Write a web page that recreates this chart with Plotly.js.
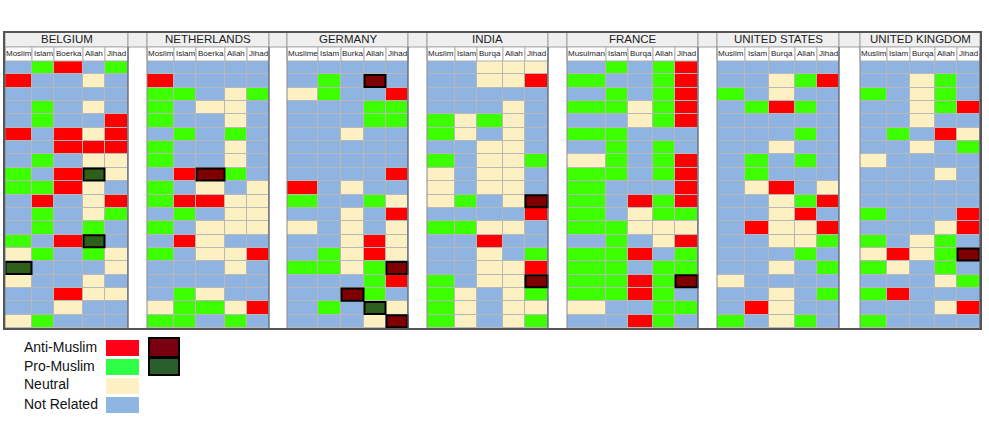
<!DOCTYPE html>
<html>
<head>
<meta charset="utf-8">
<script src="https://cdn.plot.ly/plotly-3.0.1.min.js"></script>
<style>html,body{margin:0;padding:0;background:#fff;}#chart{width:989px;height:421px;}</style>
</head>
<body>
<div id="chart"></div>
<script>
// ---------------- DATA ----------------
// Codes: B = Not Related, N = Neutral, G = Pro-Muslim, R = Anti-Muslim,
//        r = Anti-Muslim (highlighted), g = Pro-Muslim (highlighted)
const countries = ["BELGIUM", "NETHERLANDS", "GERMANY", "INDIA", "FRANCE", "UNITED STATES", "UNITED KINGDOM"];

const termsBelgium     = ["Moslim", "Islam", "Boerka", "Allah", "Jihad"];
const termsNetherlands = ["Moslim", "Islam", "Boerka", "Allah", "Jihad"];
const termsGermany     = ["Muslime", "Islam", "Burka", "Allah", "Jihad"];
const termsIndia       = ["Muslim", "Islam", "Burqa", "Allah", "Jihad"];
const termsFrance      = ["Musulman", "Islam", "Burqa", "Allah", "Jihad"];
const termsUS          = ["Muslim", "Islam", "Burqa", "Allah", "Jihad"];
const termsUK          = ["Muslim", "Islam", "Burqa", "Allah", "Jihad"];

const belgium = ["BGRBG","RBBNB","BBBBB","BGBNB","BGBBR","RBRNR","BBRRR","BGBNN","GBRgN","GGRNB",
                 "BRBNR","BGBNG","BGBGB","GBRgB","NGBGN","gBBBN","NBBNB","BBRNN","BBNBB","NGBBB"];
const netherlands = ["BBBBB","RBBBB","GGBNG","GBNNB","GBBNB","BGBGB","GBBNB","GBBNB","BRrGB","GBNBN",
                     "GRRNN","BGBNN","GBNNN","BRNBB","GBNNR","BBBNB","BBBBB","BGNBB","NGGNR","GGBGB"];
const germany = ["BBBBB","BGBrB","NGBBR","BBBGG","BBBGG","BBNBB","BBBBB","BBBBB","BBBBR","RBNBB",
                 "GBBGN","BBNBR","NBNBN","BBNRN","BGNRN","GGNGr","BBBGR","BBrGB","BGBgN","BBBNr"];
const india = ["BBNNN","BBNNR","BBBBB","BBBNB","GNGNB","GNBNB","BBNNB","GBNNG","NBNNB","NBNNB",
               "NGBNr","BBBBR","GGNNB","BBRBB","BBNBG","BBNNR","GBNNr","GNBNG","GNBNN","GNBNG"];
const france = ["BGBGR","GBBGR","BGBGR","GGNGR","BBNGR","GGBBB","BGBGB","NGBGR","GGBGR","GBBBR",
                "GBRGR","GBNGG","GGNNN","BGBNR","GGRBG","GGBGG","GGRGr","GGRGB","NBBGG","BBRGB"];
const unitedStates = ["BBBBB","BBNGR","GBNBB","BGRGB","BBBBB","BBBGB","BBNBB","BGBGB","BGBBB","BNRBN",
                      "BBNGR","BBNRB","BRNNR","BBNNG","BBBGB","BBNBG","NBBBB","BBNBG","BRNBB","GBNGB"];
const unitedKingdom = ["BBBBB","BBNGB","GBNGB","BBNGR","BBNBB","BGBRN","BBNBG","NBBBB","BBBNB","BBBBB",
                       "BBBBB","GBBBR","BBBNR","GBNGB","NRNGr","GNBGB","BBBNG","GRBBB","BBBNR","GBBBB"];

const legendLabels = ["Anti-Muslim", "Pro-Muslim", "Neutral", "Not Related"];

// ---------------- STYLE / LAYOUT ----------------
const panelData  = [belgium, netherlands, germany, india, france, unitedStates, unitedKingdom];
const panelTerms = [termsBelgium, termsNetherlands, termsGermany, termsIndia, termsFrance, termsUS, termsUK];
const colWidths = [[27,22,29,22,23],[27,22,29,22,22],[31,23,23,22,22],[28,22,26,22,23],
                   [39,22,25,22,23],[28,24,26,22,22],[27,23,25,22,23]];
const gapWidths = [19,18,19,19,19,21];
const X_START = 5;

const C = {B:'#8fb4e2', N:'#fdf0c3', G:'#3cff00', R:'#ff0000', r:'#7f0000', g:'#2e601c'};
const codeVal = {B:0, N:1, G:2, R:3, r:4, g:5};
const colorscale = [[0,C.B],[0.2,C.N],[0.4,C.G],[0.6,C.R],[0.8,C.r],[1,C.g]];

const W = 989, H = 421;
const TOP_CELLS = 61, BOTTOM_CELLS = 328, HEADER_TOP = 32, LABEL_TOP = 47;
const plotH = BOTTOM_CELLS - TOP_CELLS;
const py = p => (BOTTOM_CELLS - p) / plotH;   // pixel row -> paper y

const traces = [], shapes = [], annotations = [];
let x = X_START;
const panels = [];
panelData.forEach((rows, c) => {
  const edges = [x];
  colWidths[c].forEach(w => edges.push(edges[edges.length - 1] + w));
  panels.push(edges);
  x = edges[edges.length - 1] + (c < gapWidths.length ? gapWidths[c] : 0);
});

panels.forEach((edges, c) => {
  const rows = panelData[c];
  const nRows = rows.length;
  const z = rows.map(r => r.split('').map(ch => codeVal[ch]));
  const x0 = edges[0], x1 = edges[edges.length - 1];
  // grid background
  shapes.push({type:'rect', layer:'below', xref:'x', yref:'y', x0:x0, x1:x1, y0:-0.5, y1:nRows - 0.5,
               fillcolor:'#b8b8b8', line:{width:0}});
  traces.push({
    type:'heatmap', x:edges, y:rows.map((_, i) => i), z:z,
    zmin:0, zmax:5, colorscale:colorscale, showscale:false,
    xgap:1, ygap:1, hoverinfo:'skip'
  });
  // highlighted cells
  rows.forEach((r, i) => r.split('').forEach((ch, j) => {
    if (ch === 'r' || ch === 'g') {
      shapes.push({type:'rect', xref:'x', yref:'y', x0:edges[j] + 0.5, x1:edges[j + 1] - 0.5,
                   y0:i - 0.45, y1:i + 0.45, fillcolor:C[ch], line:{color:'#000', width:2}});
    }
  }));
  // header cell
  shapes.push({type:'rect', xref:'x', yref:'paper', x0:x0, x1:x1, y0:py(LABEL_TOP), y1:py(HEADER_TOP),
               fillcolor:'#efefef', line:{color:'#a0a0a0', width:1}});
  annotations.push({xref:'x', yref:'paper', x:(x0 + x1) / 2, y:py((HEADER_TOP + LABEL_TOP) / 2),
                    text:countries[c], showarrow:false, xanchor:'center', yanchor:'middle',
                    font:{family:'Liberation Sans, Arial, sans-serif', size:11.5, color:'#222'}});
  // gap header cell
  if (c < panels.length - 1) {
    shapes.push({type:'rect', xref:'x', yref:'paper', x0:x1, x1:panels[c + 1][0], y0:py(LABEL_TOP), y1:py(HEADER_TOP),
                 fillcolor:'#efefef', line:{color:'#a0a0a0', width:1}});
  }
  // column label cells
  panelTerms[c].forEach((t, j) => {
    shapes.push({type:'rect', xref:'x', yref:'paper', x0:edges[j], x1:edges[j + 1], y0:py(TOP_CELLS), y1:py(LABEL_TOP),
                 fillcolor:'#ffffff', line:{color:'#b0b0b0', width:1}});
    annotations.push({xref:'x', yref:'paper', x:(edges[j] + edges[j + 1]) / 2, y:py((LABEL_TOP + TOP_CELLS) / 2),
                      text:t, showarrow:false, xanchor:'center', yanchor:'middle',
                      font:{family:'Liberation Sans, Arial, sans-serif', size:8, color:'#222'}});
  });
  // dark edges of panel
  shapes.push({type:'line', xref:'x', yref:'paper', x0:x1, x1:x1, y0:0, y1:py(LABEL_TOP),
               line:{color:'#4b5870', width:1.2}});
  shapes.push({type:'line', xref:'x', yref:'paper', x0:x0, x1:x0, y0:0, y1:py(LABEL_TOP),
               line:{color:'#8a8a8a', width:1}});
});

// outer frame
const lastEdges = panels[panels.length - 1];
shapes.push({type:'rect', xref:'x', yref:'paper', x0:X_START - 1, x1:lastEdges[lastEdges.length - 1] + 1,
             y0:py(BOTTOM_CELLS + 1), y1:py(HEADER_TOP), line:{color:'#555', width:2}, fillcolor:'rgba(0,0,0,0)'});

// custom legend
const legendRows = [
  {y:347, box:[340,356], color:'#ff0019', strong:'#7a0010', strongBox:[338,357]},
  {y:366, box:[359,375], color:'#2cff44', strong:'#2a5e2a', strongBox:[358,375]},
  {y:384, box:[378,394], color:'#fdf0c2'},
  {y:404, box:[397,413], color:'#8fb5e1'}
];
legendRows.forEach((r, k) => {
  annotations.push({xref:'x', yref:'paper', x:22, y:py(r.y), text:legendLabels[k], showarrow:false,
                    xanchor:'left', yanchor:'middle',
                    font:{family:'Liberation Sans, Arial, sans-serif', size:14, color:'#111'}});
  shapes.push({type:'rect', xref:'x', yref:'paper', x0:106, x1:139, y0:py(r.box[1]), y1:py(r.box[0]),
               fillcolor:r.color, line:{width:0}});
  if (r.strong) {
    shapes.push({type:'rect', xref:'x', yref:'paper', x0:149, x1:179, y0:py(r.strongBox[1]), y1:py(r.strongBox[0]),
                 fillcolor:r.strong, line:{color:'#000', width:2}});
  }
});

const layout = {
  width:W, height:H,
  margin:{l:0, r:0, t:TOP_CELLS, b:H - BOTTOM_CELLS, pad:0},
  paper_bgcolor:'#fff', plot_bgcolor:'#fff',
  xaxis:{range:[0, W], visible:false, fixedrange:true},
  yaxis:{range:[19.5, -0.5], visible:false, fixedrange:true},
  shapes:shapes, annotations:annotations, showlegend:false
};
Plotly.newPlot('chart', traces, layout, {displayModeBar:false, staticPlot:true});
</script>
</body>
</html>
